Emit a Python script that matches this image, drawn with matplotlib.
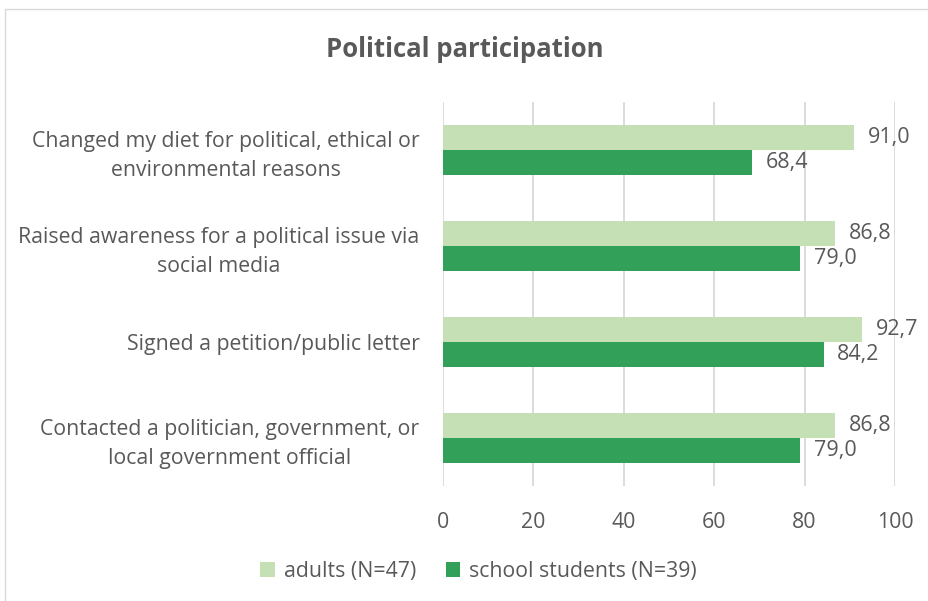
import matplotlib.pyplot as plt
import numpy as np
from matplotlib.patches import Rectangle

plt.rcParams['font.family'] = ['Open Sans', 'DejaVu Sans']

categories = ['Changed my diet for political, ethical or\nenvironmental reasons',
              'Raised awareness for a political issue via\nsocial media',
              'Signed a petition/public letter',
              'Contacted a politician, government, or\nlocal government official']
adults = [91.0, 86.8, 92.7, 86.8]
students = [68.4, 79.0, 84.2, 79.0]
series_names = ['adults (N=47)', 'school students (N=39)']

text_col = '#595959'
light_green = '#c5e0b4'
dark_green = '#33a05a'

fig = plt.figure(figsize=(9.29, 6.01), dpi=100)
ax = fig.add_axes([443 / 929, 1 - 486 / 601, 452 / 929, 384 / 601])

y = np.arange(len(categories))
h = 0.26
b1 = ax.barh(y - h / 2, adults, h, color=light_green, label=series_names[0], zorder=3)
b2 = ax.barh(y + h / 2, students, h, color=dark_green, label=series_names[1], zorder=3)

for bars, vals in [(b1, adults), (b2, students)]:
    for bar, v in zip(bars, vals):
        ax.text(v + 3.0, bar.get_y() + bar.get_height() / 2, f'{v:.1f}'.replace('.', ','),
                va='center', ha='left', fontsize=15.5, color=text_col)

ax.set_ylim(len(categories) - 0.5, -0.5)
ax.set_xlim(0, 100)
ax.set_xticks(range(0, 101, 20))
ax.set_yticks(y)
ax.set_yticklabels(categories, multialignment='center', linespacing=1.45)
ax.tick_params(axis='both', length=0, labelsize=15.3, labelcolor=text_col)
ax.tick_params(axis='y', pad=17)
ax.tick_params(axis='x', pad=19)
ax.grid(axis='x', color='#d9d9d9', linewidth=1.3, zorder=0)
for s in ax.spines.values():
    s.set_visible(False)

fig.suptitle('Political participation', x=0.5, y=0.94, fontsize=18.5, fontweight='bold', color=text_col)

fig.legend(loc='lower center', bbox_to_anchor=(0.515, 0.0), ncol=2, frameon=False,
           fontsize=15.3, labelcolor=text_col, handlelength=0.7, handleheight=0.7,
           handletextpad=0.4, columnspacing=1.4)

fig.patches.append(Rectangle((5 / 929, -0.1), 2, 1 - 9 / 601 + 0.1, transform=fig.transFigure,
                             fill=False, edgecolor='#d9d9d9', linewidth=1))

fig.savefig('out.png', dpi=100)
